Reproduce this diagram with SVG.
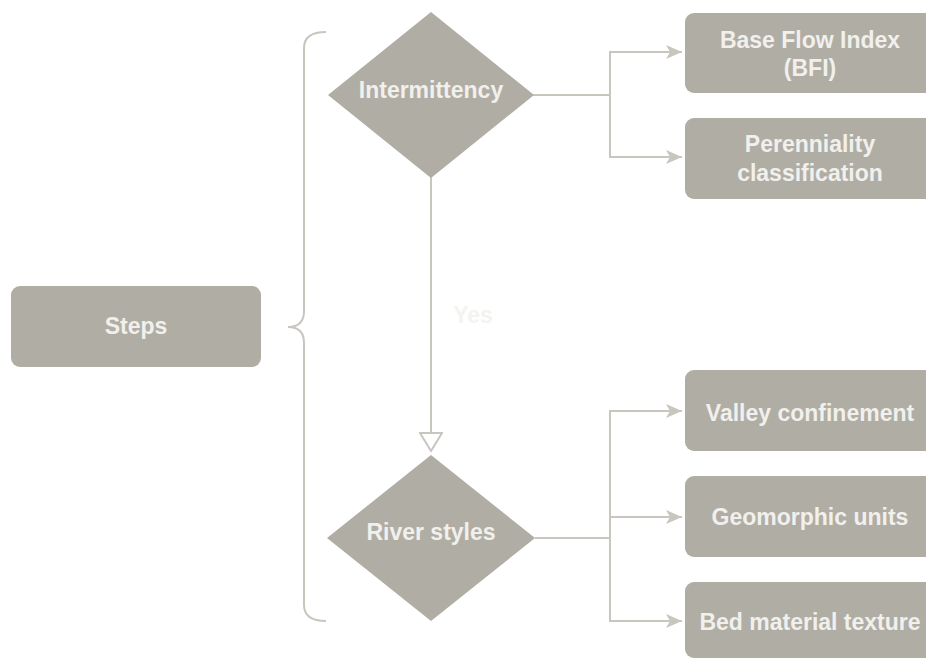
<svg xmlns="http://www.w3.org/2000/svg" width="926" height="659" viewBox="0 0 926 659">
<style>
.node{fill:#b0ada5;}
.lbl{font-family:"Liberation Sans",Arial,sans-serif;font-size:23px;font-weight:bold;fill:#f1f0ec;text-anchor:middle;}
.conn{fill:none;stroke:#c8c6bf;stroke-width:2;}
</style>
<defs>
<marker id="arr" viewBox="0 0 16 14" refX="16" refY="7" markerWidth="16" markerHeight="14" markerUnits="userSpaceOnUse" orient="auto">
<path d="M0,0 L16,7 L0,14 L4,7 Z" fill="#c8c6bf"/>
</marker>
<marker id="tri" viewBox="0 0 24 20" refX="12" refY="19" markerWidth="24" markerHeight="20" markerUnits="userSpaceOnUse" orient="0">
<path d="M1,1 L23,1 L12,19 Z" fill="#ffffff" stroke="#c8c6bf" stroke-width="2"/>
</marker>
</defs>
<rect width="926" height="659" fill="#ffffff"/>
<g id="connectors">
<path class="conn" d="M326,32 Q304,32 304,48 L304,311 Q304,327 288,327 Q304,327 304,343 L304,605 Q304,621 326,621"/>
<path class="conn" d="M533,95 L610,95 L610,52 L682,52" marker-end="url(#arr)"/>
<path class="conn" d="M610,95 L610,157 L682,157" marker-end="url(#arr)"/>
<path class="conn" d="M535,538 L610,538 L610,411 L682,411" marker-end="url(#arr)"/>
<path class="conn" d="M610,517 L682,517" marker-end="url(#arr)"/>
<path class="conn" d="M610,538 L610,621 L682,621" marker-end="url(#arr)"/>
<path class="conn" d="M431,177 L431,451" marker-end="url(#tri)"/>
<text class="lbl" x="473" y="323" style="fill:#f4f3f0">Yes</text>
</g>
<g id="steps">
<rect class="node" x="11" y="286" width="250" height="81" rx="9"/>
<text class="lbl" x="136" y="334">Steps</text>
</g>
<g id="intermittency">
<polygon class="node" points="431,12 534,95 431,178 328,95"/>
<text class="lbl" x="431" y="98">Intermittency</text>
</g>
<g id="river-styles">
<polygon class="node" points="431,455 535,538 431,621 327,538"/>
<text class="lbl" x="431" y="540">River styles</text>
</g>
<g id="bfi">
<rect class="node" x="685" y="13" width="250" height="80" rx="9"/>
<text class="lbl" x="810" y="48">Base Flow Index</text>
<text class="lbl" x="810" y="76">(BFI)</text>
</g>
<g id="perenniality">
<rect class="node" x="685" y="118" width="250" height="81" rx="9"/>
<text class="lbl" x="810" y="152">Perenniality</text>
<text class="lbl" x="810" y="181">classification</text>
</g>
<g id="valley">
<rect class="node" x="685" y="370" width="250" height="81" rx="9"/>
<text class="lbl" x="810" y="421">Valley confinement</text>
</g>
<g id="geomorphic">
<rect class="node" x="685" y="476" width="250" height="81" rx="9"/>
<text class="lbl" x="810" y="525">Geomorphic units</text>
</g>
<g id="bed">
<rect class="node" x="685" y="582" width="250" height="76" rx="9"/>
<text class="lbl" x="810" y="630">Bed material texture</text>
</g>
</svg>
